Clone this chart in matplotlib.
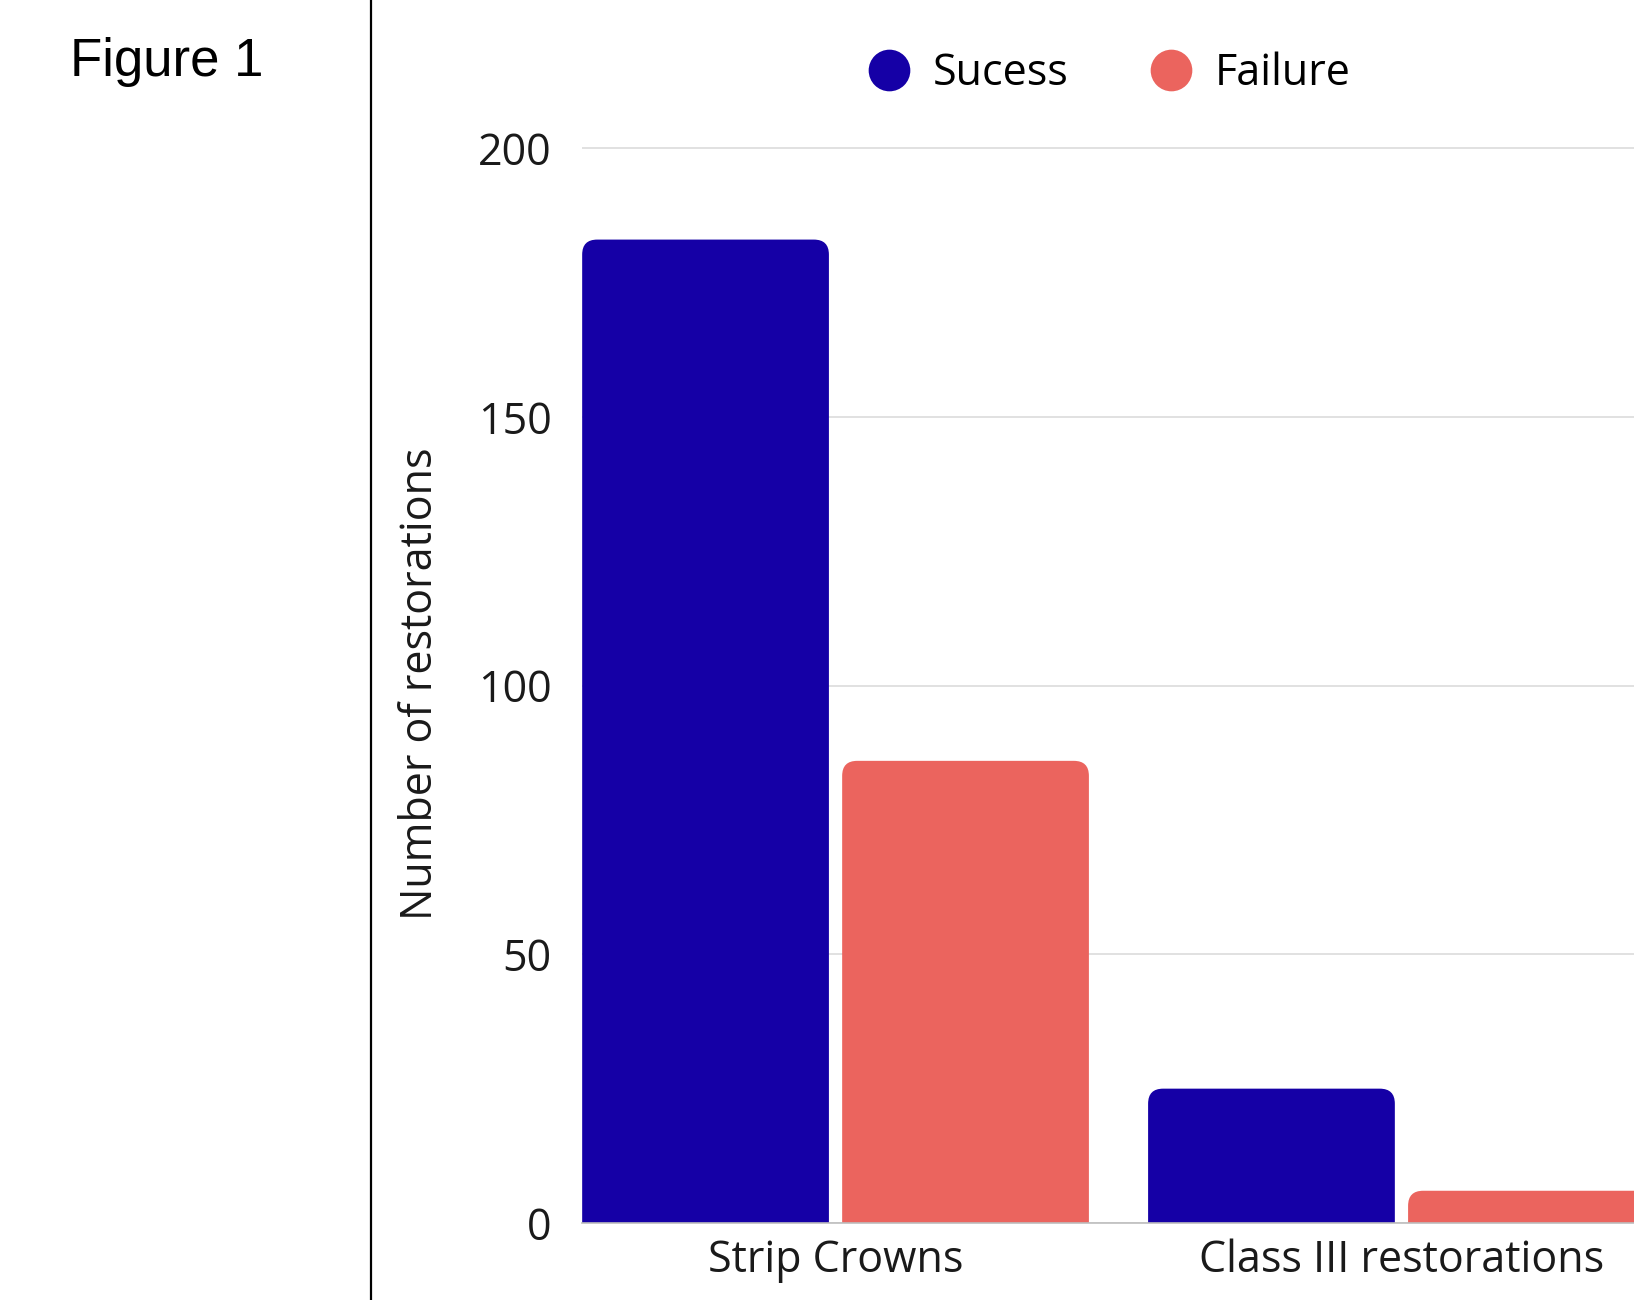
import matplotlib

matplotlib.use("Agg")
import matplotlib.pyplot as plt
import numpy as np
from matplotlib.lines import Line2D
from matplotlib.patches import FancyBboxPatch

categories = ["Strip Crowns", "Class III restorations"]
series = ["Sucess", "Failure"]
success = [183, 25]
failure = [86, 6]
yticks = [0, 50, 100, 150, 200]

BLUE = "#1500a6"
CORAL = "#eb645e"
GRID = "#dcdcdc"
INK = "#1a1a1a"
FONT = "Open Sans"

fig = plt.figure(figsize=(16.34, 13.0), dpi=100)
fig.patch.set_facecolor("white")

# panel label and the divider on the left
fig.text(70 / 1634, 1 - 76 / 1300, "Figure 1", family="Liberation Sans",
         fontsize=38, color="black", va="baseline")
fig.add_artist(Line2D([371 / 1634] * 2, [0, 1], color="black", lw=1.6,
                      transform=fig.transFigure))

ax = fig.add_axes([582 / 1634, 77 / 1300, 1073 / 1634, 1078 / 1300])
ax.set_xlim(-0.448, 1.448)
ax.set_ylim(0, 200.6)

x = np.arange(len(categories))
width = 0.436
offset = 0.2297

# corner radius in pixels -> data units along each axis
p0 = ax.transData.transform((0, 0))
p1 = ax.transData.transform((1, 1))
px_x = p1[0] - p0[0]
px_y = p1[1] - p0[1]
radius = 15 / px_x
aspect = px_x / px_y

for vals, dx, color in [(success, -offset, BLUE), (failure, offset, CORAL)]:
    bars = ax.bar(x + dx, vals, width, color="none", zorder=3)
    for b in bars:
        # extend below zero so only the top corners show rounded
        h = b.get_height()
        ext = 20 / px_y
        patch = FancyBboxPatch((b.get_x(), -ext), b.get_width(), h + ext,
                               boxstyle=f"round,pad=0,rounding_size={radius}",
                               mutation_aspect=aspect, facecolor=color,
                               edgecolor="none", zorder=3)
        ax.add_patch(patch)

ax.set_yticks(yticks)
ax.yaxis.grid(True, color=GRID, lw=1.2, zorder=0)
ax.set_axisbelow(True)
for s in ["top", "right", "left"]:
    ax.spines[s].set_visible(False)
ax.spines["bottom"].set_color("#bdbdbd")
ax.spines["bottom"].set_linewidth(1.2)
ax.spines["bottom"].set_zorder(4)
ax.tick_params(axis="both", length=0, labelsize=31, labelcolor=INK)
ax.tick_params(axis="y", pad=22)
ax.tick_params(axis="x", pad=11)
ax.set_xticks(x)
ax.set_xticklabels(categories)
for lbl in ax.get_xticklabels() + ax.get_yticklabels():
    lbl.set_family(FONT)

fig.text(421 / 1634, 1 - 684 / 1300, "Number of restorations", family=FONT,
         fontsize=31, color=INK, rotation=90, ha="center", va="center")

handles = [Line2D([], [], marker="o", ls="none", markersize=30, color=c,
                  markeredgewidth=0) for c in (BLUE, CORAL)]
fig.legend(handles, series, loc="center", bbox_to_anchor=(1109 / 1634, 1 - 74 / 1300),
           ncol=2, frameon=False, prop={"family": FONT, "size": 31},
           handletextpad=0.5, columnspacing=1.9, handlelength=1.0)

fig.savefig("out.png", dpi=100, facecolor="white")
